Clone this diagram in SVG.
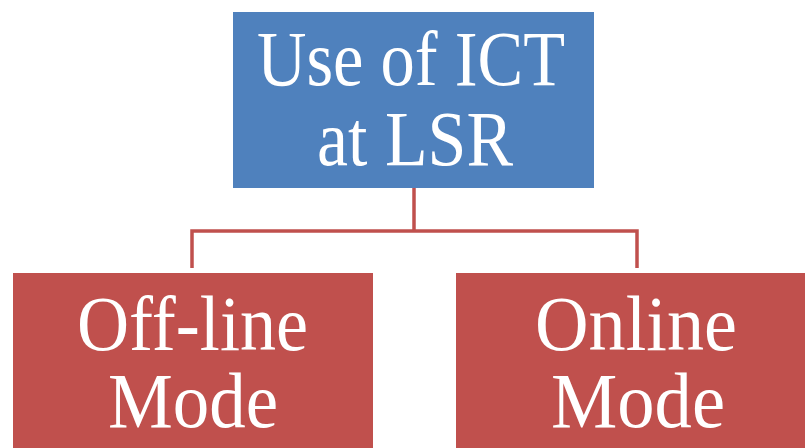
<svg xmlns="http://www.w3.org/2000/svg" width="805" height="448" viewBox="0 0 805 448">
<style>
.lbl{font-family:"Liberation Serif","DejaVu Serif",serif;font-size:78px;fill:#ffffff;text-anchor:middle}
.conn{fill:none;stroke:#C0504D;stroke-width:3.5}
</style>
<rect width="805" height="448" fill="#ffffff"/>
<g id="connectors">
<path class="conn" d="M414 188 V231 M192 268 V231 H637 V268"/>
</g>
<g id="root">
<rect x="233" y="12" width="361" height="176" fill="#4F81BD"/>
<text class="lbl" x="411" y="85" textLength="308" lengthAdjust="spacingAndGlyphs">Use of ICT</text>
<text class="lbl" x="415" y="165" textLength="196" lengthAdjust="spacingAndGlyphs">at LSR</text>
</g>
<g id="offline">
<rect x="13" y="273" width="360" height="180" fill="#C0504D"/>
<text class="lbl" x="192.5" y="350" textLength="231" lengthAdjust="spacingAndGlyphs">Off-line</text>
<text class="lbl" x="193" y="427" textLength="170" lengthAdjust="spacingAndGlyphs">Mode</text>
</g>
<g id="online">
<rect x="456" y="273" width="360" height="180" fill="#C0504D"/>
<text class="lbl" x="636" y="350" textLength="202" lengthAdjust="spacingAndGlyphs">Online</text>
<text class="lbl" x="638" y="427" textLength="174" lengthAdjust="spacingAndGlyphs">Mode</text>
</g>
</svg>
